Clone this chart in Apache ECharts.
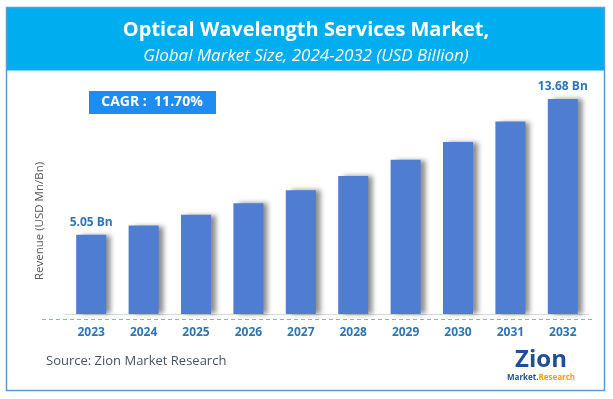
<!DOCTYPE html>
<html>
<head>
<meta charset="utf-8">
<script src="https://cdn.jsdelivr.net/npm/echarts@6/dist/echarts.min.js"></script>
<style>
  html, body { margin: 0; padding: 0; background: #fff; }
  #chart { width: 613px; height: 399px; }
</style>
</head>
<body>
<div id="chart"></div>
<script>
var years = ["2023", "2024", "2025", "2026", "2027", "2028", "2029", "2030", "2031", "2032"];
var revenue = [5.05, 5.63, 6.32, 7.05, 7.88, 8.78, 9.82, 10.95, 12.25, 13.68];
var cagrText = "CAGR :  11.70%";

var chart = echarts.init(document.getElementById("chart"));
var blueText = "#2E75B6";

var option = {
  animation: false,
  grid: { left: 65, right: 24, top: 94, bottom: 85 },
  xAxis: {
    type: "category",
    data: years,
    axisLine: { show: true, lineStyle: { color: "#d9d9d9", width: 1 } },
    axisTick: { show: false },
    axisLabel: {
      color: blueText,
      fontWeight: "bold",
      fontSize: 12,
      fontFamily: "Open Sans",
      margin: 13
    }
  },
  yAxis: {
    type: "value",
    min: 0,
    max: 14,
    show: false,
    splitLine: { show: false }
  },
  series: [
    {
      type: "bar",
      data: revenue,
      barWidth: 30,
      itemStyle: {
        color: "#4E7DD1",
        shadowColor: "rgba(0,0,0,0.45)",
        shadowBlur: 5,
        shadowOffsetX: 5,
        shadowOffsetY: 0
      },
      label: {
        show: true,
        position: "top",
        distance: 6,
        color: blueText,
        fontWeight: "bold",
        fontSize: 12,
        fontFamily: "Open Sans",
        formatter: function (p) {
          if (p.dataIndex === 0 || p.dataIndex === revenue.length - 1) {
            return p.value.toFixed(2) + " Bn";
          }
          return "";
        }
      }
    }
  ],
  graphic: [
    // outer frame
    {
      type: "rect",
      shape: { x: 6.5, y: 7.5, width: 598, height: 383 },
      style: { fill: "none", stroke: "#5B9BD5", lineWidth: 1.5 },
      z: 10
    },
    // header band
    {
      type: "rect",
      shape: { x: 6.5, y: 7.5, width: 598, height: 63 },
      style: { fill: "#00AEEF" },
      z: 9
    },
    {
      type: "text",
      x: 306,
      y: 30,
      style: {
        text: "Optical Wavelength Services Market,",
        fill: "#fff",
        font: "bold 20px 'Open Sans'",
        align: "center",
        verticalAlign: "middle"
      },
      z: 11
    },
    {
      type: "text",
      x: 306,
      y: 56,
      style: {
        text: "Global Market Size, 2024-2032 (USD Billion)",
        fill: "#fff",
        font: "italic 17px 'Open Sans'",
        align: "center",
        verticalAlign: "middle"
      },
      z: 11
    },
    // CAGR box
    {
      type: "rect",
      shape: { x: 89, y: 91, width: 127, height: 23 },
      style: { fill: "#1E8CF0" },
      z: 11
    },
    {
      type: "text",
      x: 152,
      y: 102.5,
      style: {
        text: cagrText,
        fill: "#fff",
        font: "bold 14px 'Open Sans'",
        align: "center",
        verticalAlign: "middle"
      },
      z: 12
    },
    // y axis title
    {
      type: "text",
      x: 40,
      y: 221,
      rotation: Math.PI / 2,
      style: {
        text: "Revenue (USD Mn/Bn)",
        fill: "#595959",
        font: "11.5px 'Open Sans'",
        align: "center",
        verticalAlign: "middle"
      },
      z: 11
    },
    // dashed baseline
    {
      type: "line",
      shape: { x1: 42, y1: 319.5, x2: 595, y2: 319.5 },
      style: { stroke: "#8FAADC", lineWidth: 1, lineDash: [4, 3] },
      z: 11
    },
    // source
    {
      type: "text",
      x: 46,
      y: 361,
      style: {
        text: "Source: Zion Market Research",
        fill: "#44546A",
        font: "13px 'Open Sans'",
        verticalAlign: "middle"
      },
      z: 11
    },
    // logo
    {
      type: "text",
      x: 541,
      y: 360,
      style: {
        text: "Zion",
        fill: "#1F4E9C",
        font: "bold 24px 'Open Sans'",
        align: "center",
        verticalAlign: "middle"
      },
      z: 11
    },
    {
      type: "text",
      x: 541,
      y: 378,
      style: {
        rich: {
          a: { fill: "#1F4E9C", font: "bold 8px 'Open Sans'" },
          b: { fill: "#F39C12", font: "bold 8px 'Open Sans'" }
        },
        text: "{a|Market.}{b|Research}",
        align: "center",
        verticalAlign: "middle"
      },
      z: 11
    }
  ]
};

chart.setOption(option);
</script>
</body>
</html>
